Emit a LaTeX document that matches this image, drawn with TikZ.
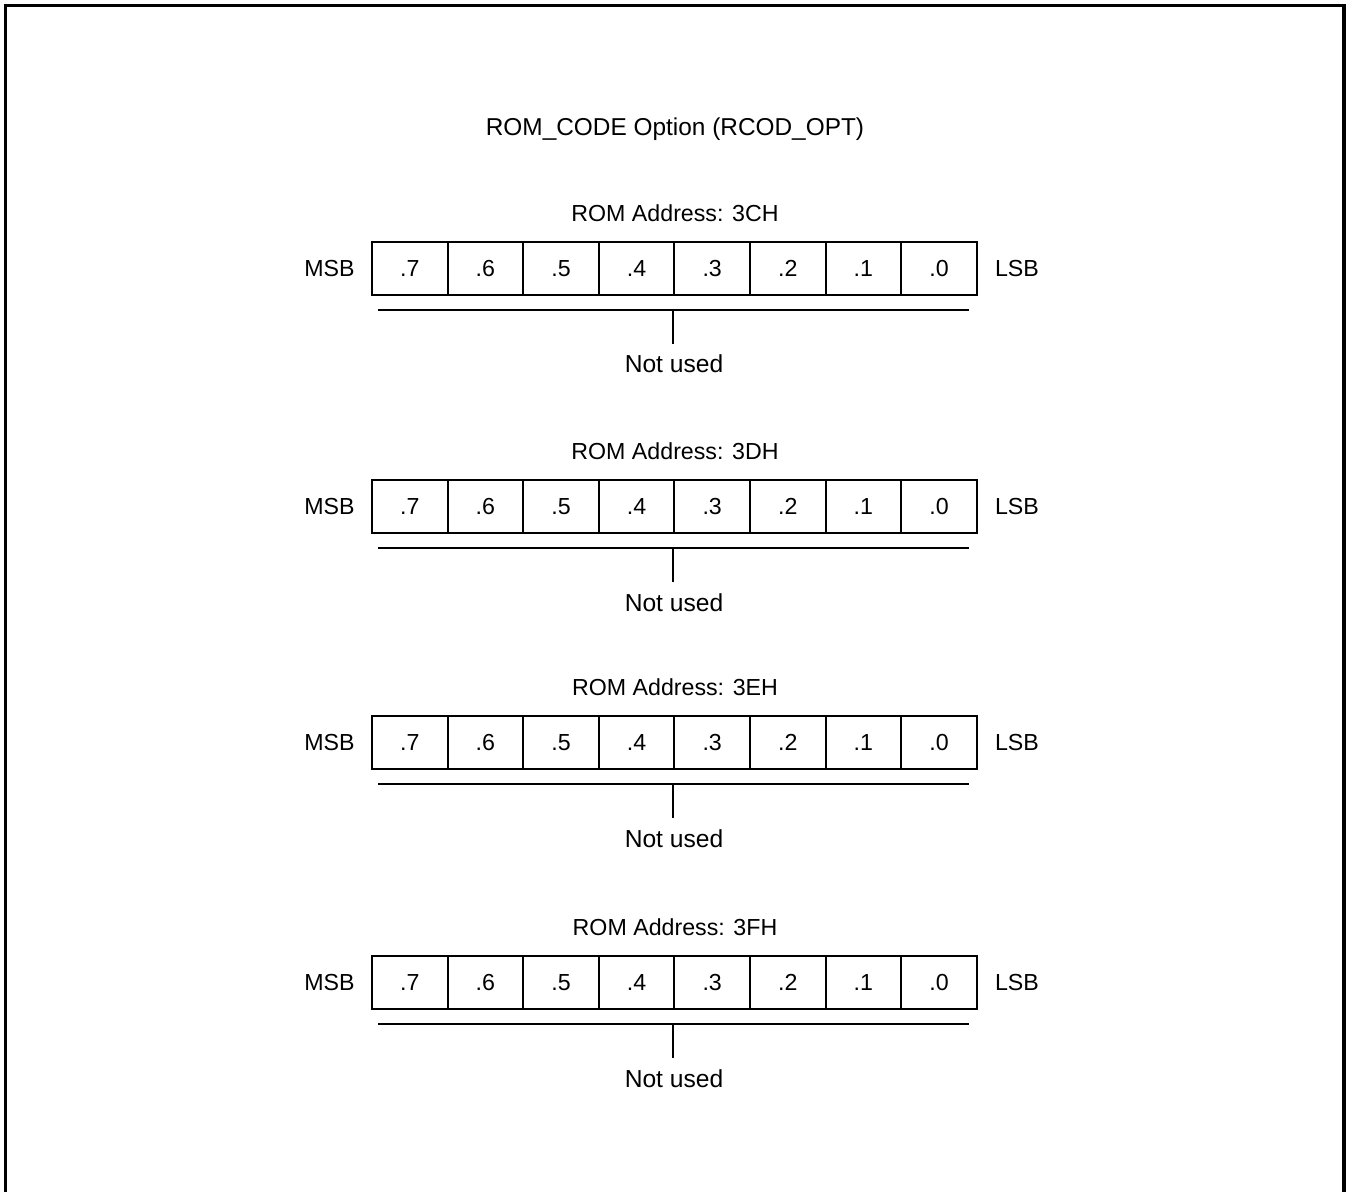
\documentclass[tikz,border=0pt]{standalone}
\usepackage{fontspec}
\setmainfont{Liberation Sans}
\begin{document}
\begin{tikzpicture}[x=0.5pt,y=-0.5pt,
  cell/.style={draw,line width=1pt,minimum width=37.8pt,minimum height=26.5pt,inner sep=0pt,font=\fontsize{11.6}{13}\selectfont},
  lbl/.style={inner sep=0pt,anchor=base,font=\fontsize{11.6}{13}\selectfont},
  nul/.style={inner sep=0pt,anchor=base,font=\fontsize{12.3}{14}\selectfont},
  ttl/.style={inner sep=0pt,anchor=base,font=\fontsize{12.2}{14}\selectfont},
  ln/.style={line width=1pt}]
\useasboundingbox (0,0) rectangle (1350,1192);
\draw[line width=1.6pt] (5.5,1192) -- (5.5,5.5) -- (1344,5.5) -- (1344,1192);
\node[ttl] (title) at (675,135.7) {ROM\_CODE Option (RCOD\_OPT)};
\foreach \r/\t/\a in {1/242/3CH,2/480/3DH,3/716/3EH,4/956/3FH}{
  \node[lbl] (addr\r) at (675,\t-20.3) {ROM Address: \a};
  \foreach \k in {0,...,7}{
    \pgfmathtruncatemacro{\bit}{7-\k}
    \node[cell] (c\r b\bit) at ({372+75.6*(\k+0.5)},\t+26.5) {.\bit};
  }
  \node[lbl] (msb\r) at (329.5,\t+34.7) {MSB};
  \node[lbl] (lsb\r) at (1017,\t+34.7) {LSB};
  \coordinate (bl\r) at (378,\t+68);
  \coordinate (br\r) at (969,\t+68);
  \coordinate (bm\r) at (673,\t+68);
  \coordinate (bt\r) at (673,\t+102);
  \draw[ln] (bl\r) -- (br\r);
  \draw[ln] (bm\r) -- (bt\r);
  \node[nul] (nu\r) at (674,\t+131) {Not used};
}
\end{tikzpicture}
\end{document}
